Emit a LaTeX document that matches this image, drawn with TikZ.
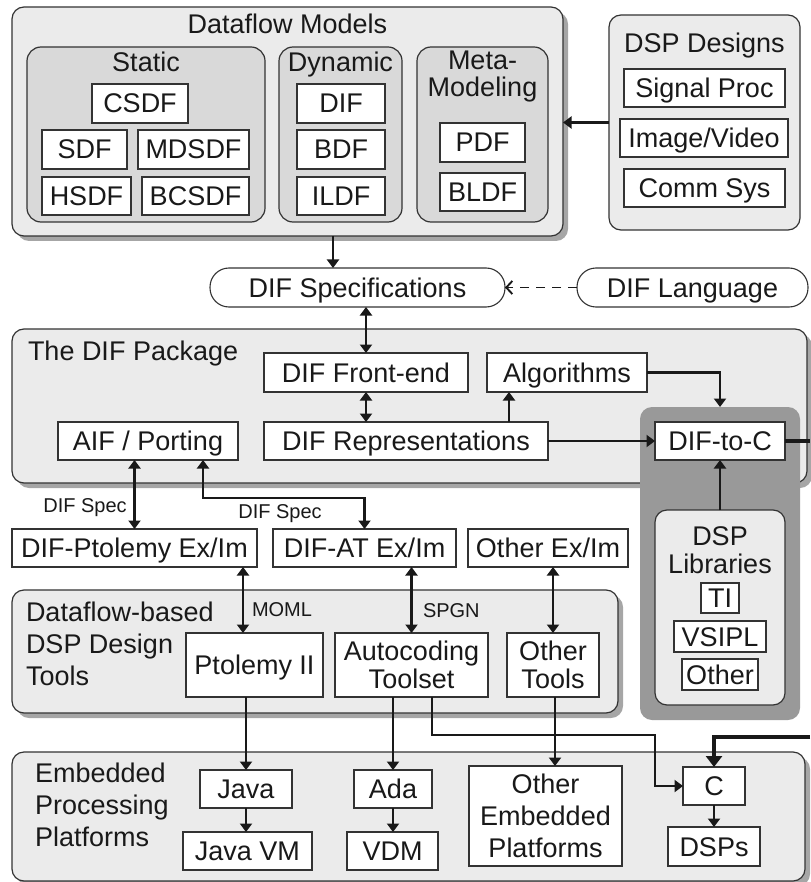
\documentclass[tikz,border=0pt]{standalone}
\usepackage{fontspec}
\setmainfont{Liberation Sans}
\usetikzlibrary{arrows.meta,shadows,calc}
\tikzset{
  sz/.style 2 args={minimum width=#1pt, minimum height=#2pt},
  t1/.style={text height=19pt, text depth=0pt},
  fc/.style={font=\fontsize{27}{28}\selectfont, align=center},
  wb/.style={draw=black!80, line width=1.1pt, fill=white, t1},
  wbm/.style={draw=black!80, line width=1.1pt, fill=white, fc},
  outer/.style={draw=black!80, line width=1.2pt, fill=black!8, rounded corners=12pt},
  inner/.style={draw=black!80, line width=1.2pt, fill=black!15, rounded corners=14pt},
  darkbox/.style={draw=none, fill=black!40, rounded corners=12pt},
  shad/.style={general shadow={shadow xshift=5pt, shadow yshift=-5pt, fill=black!35, draw=none}},
  pill/.style={draw=black!80, line width=1.1pt, fill=white, rounded corners=19pt, t1},
  small/.style={font=\fontsize{20}{24}\selectfont, text height=14.3pt, text depth=0pt},
  ln/.style={line width=2.1pt, draw=black!90},
  arr/.style={ln, -{Triangle[width=12pt,length=8.5pt]}},
  darr/.style={ln, {Triangle[width=12pt,length=8.5pt]}-{Triangle[width=12pt,length=8.5pt]}},
  thk/.style={line width=4pt, draw=black!90},
  tarr/.style={thk, -{Triangle[width=16pt,length=11pt]}},
  dsh/.style={line width=1.9pt, draw=black!90, dash pattern=on 9pt off 7pt, -{Straight Barb[width=13pt,length=6pt]}}
}
\begin{document}
\begin{tikzpicture}[x=1pt,y=-1pt,
  every node/.style={font=\fontsize{27}{32}\selectfont, text=black!90, inner sep=0pt, outer sep=0pt}]
\useasboundingbox (0,0) rectangle (810,882);

% ---------- Dataflow Models ----------
\node[outer, shad, sz={551}{229}] (dfm) at (287.5,121.5) {};
\node[t1] (dfmt) at (287.5,24) {Dataflow Models};
\node[inner, sz={238}{175}] (stat) at (146,134.5) {};
\node[t1] (statt) at (146,62) {Static};
\node[wb, sz={96}{39}] (csdf) at (140,103.5) {CSDF};
\node[wb, sz={85}{39}] (sdf) at (84.5,149.5) {SDF};
\node[wb, sz={111}{39}] (mdsdf) at (193.5,149.5) {MDSDF};
\node[wb, sz={89}{38}] (hsdf) at (86.5,196) {HSDF};
\node[wb, sz={107}{38}] (bcsdf) at (195.5,196) {BCSDF};
\node[inner, sz={123}{175}] (dyn) at (340.5,134.5) {};
\node[t1] (dynt) at (340.5,62.5) {Dynamic};
\node[wb, sz={88}{39}] (dif) at (341,103.5) {DIF};
\node[wb, sz={88}{39}] (bdf) at (341,149.5) {BDF};
\node[wb, sz={88}{38}] (ildf) at (341,196) {ILDF};
\node[inner, sz={131}{175}] (meta) at (482.5,134.5) {};
\node[font=\fontsize{27}{27}\selectfont, align=center] (metat) at (482.5,77) {Meta-\\Modeling};
\node[wb, sz={85}{39}] (pdf) at (482.5,142.5) {PDF};
\node[wb, sz={85}{38}] (bldf) at (482.5,192) {BLDF};

% ---------- DSP Designs ----------
\node[outer, sz={191}{215}] (dspd) at (704.5,122.5) {};
\node[t1] (dspdt) at (704.5,43) {DSP Designs};
\node[wb, sz={161}{38}] (sig) at (704.5,88) {Signal Proc};
\node[wb, sz={168}{38}] (img) at (704,138) {Image/Video};
\node[wb, sz={161}{38}] (comm) at (704.5,188) {Comm Sys};

% ---------- DIF Specifications / Language ----------
\node[pill, sz={295}{39}] (difspec) at (357.5,287.5) {DIF Specifications};
\node[pill, sz={231}{39}] (diflang) at (692.5,287.5) {DIF Language};

% ---------- The DIF Package ----------
\node[outer, shad, sz={795}{154}] (pkg) at (409.5,406) {};
\node[t1, anchor=west] (pkgt) at (28,351) {The DIF Package};
\node[wb, sz={204}{39}] (fe) at (366,372.5) {DIF Front-end};
\node[wb, sz={160}{39}] (algo) at (567,372.5) {Algorithms};
\node[wb, sz={180}{38}] (aif) at (148,441) {AIF / Porting};
\node[wb, sz={284}{38}] (rep) at (406,441) {DIF Representations};

% ---------- DIF-to-C container ----------
\node[darkbox, sz={160}{313}] (dark) at (720,563.5) {};
\node[wb, sz={130}{38}] (dif2c) at (720,441) {DIF-to-C};
\node[outer, sz={130}{195}] (lib) at (720,607.5) {};
\node[fc] (libt) at (720,550) {DSP\\Libraries};
\node[wb, sz={38}{30}] (ti) at (720,598) {TI};
\node[wb, sz={92}{31}] (vsipl) at (720,636.5) {VSIPL};
\node[wb, sz={76}{31}] (oth) at (720,674.5) {Other};

% ---------- Ex/Im ----------
\node[wb, sz={245}{38}] (ptex) at (134.5,548) {DIF-Ptolemy Ex/Im};
\node[wb, sz={183}{38}] (atex) at (364.5,548) {DIF-AT Ex/Im};
\node[wb, sz={160}{38}] (otex) at (548,548) {Other Ex/Im};

% ---------- Tools ----------
\node[outer, shad, sz={606}{123}] (tools) at (315,651.5) {};
\node[align=left, anchor=west] (toolst) at (26,644) {Dataflow-based\\DSP Design\\Tools};
\node[wb, sz={137}{64}] (pt) at (254.5,665) {Ptolemy II};
\node[wbm, sz={153}{64}] (auto) at (411.5,665) {Autocoding\\Toolset};
\node[wbm, sz={92}{64}] (otools) at (553,665) {Other\\Tools};

% ---------- Embedded ----------
\node[outer, shad, sz={793}{129}] (emb) at (408.5,816.5) {};
\node[align=left, anchor=west] (embt) at (35,805) {Embedded\\Processing\\Platforms};
\node[wb, sz={92}{38}] (java) at (246,789) {Java};
\node[wb, sz={129}{38}] (jvm) at (247.5,851) {Java VM};
\node[wb, sz={78}{38}] (ada) at (393,789) {Ada};
\node[wb, sz={91}{38}] (vdm) at (392.5,851) {VDM};
\node[draw=black!80, line width=1.1pt, fill=white, align=center, sz={153}{100}] (oep) at (545.5,816) {Other\\Embedded\\Platforms};
\node[wb, sz={62}{38}] (cc) at (714,786) {C};
\node[wb, sz={92}{39}] (dsps) at (714,846.5) {DSPs};

% ---------- labels ----------
\node[small] (l1) at (85,505) {DIF Spec};
\node[small] (l2) at (280,511) {DIF Spec};
\node[small, anchor=west] (l3) at (252,609.5) {MOML};
\node[small, anchor=west] (l4) at (423,610) {SPGN};

% ---------- helper coordinates ----------
\coordinate (c333) at (333,0);
\coordinate (c509) at (509,0);
\coordinate (c243) at (243,0);
\coordinate (outR) at (810,441);
\coordinate (inR) at (810,737);
\coordinate (aif2) at ([xshift=55pt]aif.south);
\coordinate (autoC) at ([xshift=20.5pt]auto.south);

% ---------- connectors ----------
\draw[arr] (dspd.west) -- (dspd.west -| dfm.east);
\draw[arr] (c333 |- dfm.south) -- (c333 |- difspec.north);
\draw[dsh] (diflang.west) -- (difspec.east);
\draw[darr] (fe.north |- difspec.south) -- (fe.north);
\draw[darr] (fe.south) -- (fe.south |- rep.north);
\draw[arr] (c509 |- rep.north) -- (c509 |- algo.south);
\draw[arr] (algo.east) -| (dark.north);
\draw[arr] (rep.east) -- (dif2c.west);
\draw[arr] (lib.north) -- (dif2c.south);
\draw[thk] (dif2c.east) -- (outR);
\draw[tarr] (inR) -| (cc.north);

\draw[darr] (ptex.north |- aif.south) -- (ptex.north);
\draw[darr] (aif2) -- ++(0,38) -| (atex.north);

\draw[darr] (c243 |- ptex.south) -- (c243 |- pt.north);
\draw[darr] (auto.north |- atex.south) -- (auto.north);
\draw[darr] (otools.north |- otex.south) -- (otools.north);

\draw[arr] (java.north |- pt.south) -- (java.north);
\draw[arr] (ada.north |- auto.south) -- (ada.north);
\draw[arr] (autoC) -- ++(0,38) -- ++(223,0) |- (cc.west);
\draw[arr] ([xshift=2pt]otools.south) -- ([xshift=2pt]otools.south |- oep.north);
\draw[arr] (java.south) -- (java.south |- jvm.north);
\draw[arr] (ada.south) -- (ada.south |- vdm.north);
\draw[arr] (cc.south) -- (dsps.north);
\end{tikzpicture}
\end{document}
